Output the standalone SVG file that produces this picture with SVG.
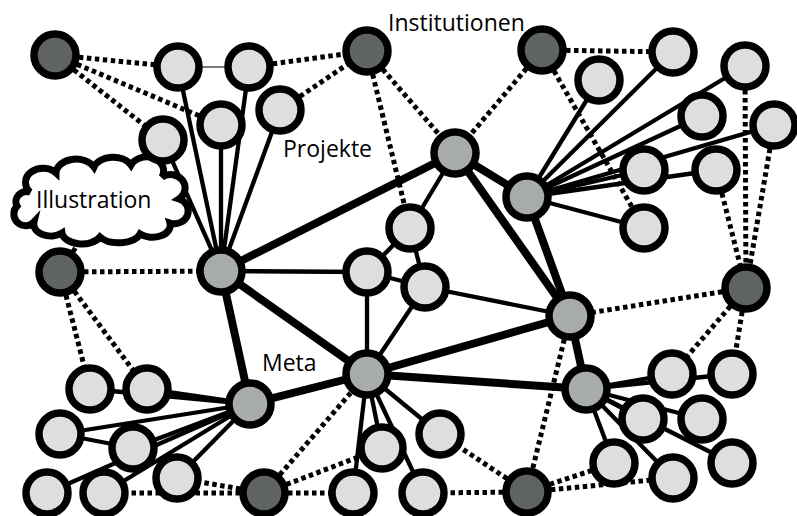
<svg xmlns="http://www.w3.org/2000/svg" width="797" height="516" viewBox="0 0 797 516">
<style>
.n circle{stroke:#000;stroke-width:7.5}
.dk{fill:#5f6362}.md{fill:#a7abaa}.lt{fill:#dddfde}
#edges line{stroke:#000;stroke-linecap:butt}
.tk{stroke-width:8}.me{stroke-width:4.3}.th{stroke-width:2;stroke:#7a7a7a !important}
.dt{stroke-width:5;stroke-dasharray:4.5 3.5}
text{font-family:"Open Sans","Liberation Sans",sans-serif;font-size:23px;fill:#000}
</style>
<rect width="797" height="516" fill="#fff"/>
<g id="edges">
<line class="tk" x1="221" y1="271" x2="455" y2="153"/>
<line class="tk" x1="221" y1="271" x2="367" y2="374"/>
<line class="tk" x1="221" y1="271" x2="250" y2="404"/>
<line class="tk" x1="250" y1="404" x2="367" y2="374"/>
<line class="tk" x1="367" y1="374" x2="570" y2="316"/>
<line class="tk" x1="367" y1="374" x2="586" y2="389"/>
<line class="tk" x1="455" y1="153" x2="527" y2="197"/>
<line class="tk" x1="455" y1="153" x2="570" y2="316"/>
<line class="tk" x1="527" y1="197" x2="570" y2="316"/>
<line class="tk" x1="570" y1="316" x2="586" y2="389"/>
<line class="me" x1="221" y1="271" x2="178" y2="67"/>
<line class="me" x1="221" y1="271" x2="249" y2="67"/>
<line class="me" x1="221" y1="271" x2="163" y2="140"/>
<line class="me" x1="221" y1="271" x2="221" y2="125"/>
<line class="me" x1="221" y1="271" x2="280" y2="110"/>
<line class="me" x1="221" y1="271" x2="367" y2="272"/>
<line class="me" x1="367" y1="272" x2="425" y2="287"/>
<line class="me" x1="367" y1="272" x2="367" y2="374"/>
<line class="me" x1="425" y1="287" x2="367" y2="374"/>
<line class="me" x1="410" y1="228" x2="367" y2="272"/>
<line class="me" x1="410" y1="228" x2="425" y2="287"/>
<line class="me" x1="410" y1="228" x2="455" y2="153"/>
<line class="me" x1="425" y1="287" x2="570" y2="316"/>
<line class="me" x1="367" y1="374" x2="382" y2="448"/>
<line class="me" x1="367" y1="374" x2="440" y2="434"/>
<line class="me" x1="367" y1="374" x2="353" y2="493"/>
<line class="me" x1="367" y1="374" x2="423" y2="493"/>
<line class="me" x1="527" y1="197" x2="599" y2="80"/>
<line class="me" x1="527" y1="197" x2="673" y2="52"/>
<line class="me" x1="527" y1="197" x2="745" y2="66"/>
<line class="me" x1="527" y1="197" x2="702" y2="116"/>
<line class="me" x1="527" y1="197" x2="774" y2="125"/>
<line class="me" x1="527" y1="197" x2="644" y2="170"/>
<line class="me" x1="527" y1="197" x2="716" y2="170"/>
<line class="me" x1="527" y1="197" x2="644" y2="228"/>
<line class="me" x1="586" y1="389" x2="672" y2="374"/>
<line class="me" x1="586" y1="389" x2="732" y2="374"/>
<line class="me" x1="586" y1="389" x2="643" y2="419"/>
<line class="me" x1="586" y1="389" x2="702" y2="419"/>
<line class="me" x1="586" y1="389" x2="614" y2="463"/>
<line class="me" x1="586" y1="389" x2="673" y2="478"/>
<line class="me" x1="586" y1="389" x2="732" y2="463"/>
<line class="me" x1="250" y1="404" x2="90" y2="389"/>
<line class="me" x1="250" y1="404" x2="147" y2="389"/>
<line class="me" x1="250" y1="404" x2="60" y2="434"/>
<line class="me" x1="250" y1="404" x2="133" y2="448"/>
<line class="me" x1="250" y1="404" x2="177" y2="478"/>
<line class="me" x1="250" y1="404" x2="47" y2="493"/>
<line class="me" x1="250" y1="404" x2="104" y2="493"/>
<line class="me" x1="60" y1="434" x2="133" y2="448"/>
<line class="th" x1="178" y1="67" x2="249" y2="67"/>
<line class="dt" x1="55" y1="55" x2="178" y2="67"/>
<line class="dt" x1="55" y1="55" x2="221" y2="125"/>
<line class="dt" x1="55" y1="55" x2="163" y2="140"/>
<line class="dt" x1="249" y1="67" x2="367" y2="51"/>
<line class="dt" x1="280" y1="110" x2="367" y2="51"/>
<line class="dt" x1="367" y1="51" x2="455" y2="153"/>
<line class="dt" x1="367" y1="51" x2="410" y2="228"/>
<line class="dt" x1="542" y1="50" x2="455" y2="153"/>
<line class="dt" x1="542" y1="50" x2="673" y2="52"/>
<line class="dt" x1="542" y1="50" x2="644" y2="228"/>
<line class="dt" x1="745" y1="66" x2="746" y2="288"/>
<line class="dt" x1="774" y1="125" x2="746" y2="288"/>
<line class="dt" x1="716" y1="170" x2="746" y2="288"/>
<line class="dt" x1="746" y1="288" x2="570" y2="316"/>
<line class="dt" x1="746" y1="288" x2="672" y2="374"/>
<line class="dt" x1="746" y1="288" x2="732" y2="374"/>
<line class="dt" x1="570" y1="316" x2="527" y2="492"/>
<line class="dt" x1="527" y1="492" x2="614" y2="463"/>
<line class="dt" x1="527" y1="492" x2="673" y2="478"/>
<line class="dt" x1="527" y1="492" x2="423" y2="493"/>
<line class="dt" x1="527" y1="492" x2="440" y2="434"/>
<line class="dt" x1="264" y1="493" x2="353" y2="493"/>
<line class="dt" x1="264" y1="493" x2="382" y2="448"/>
<line class="dt" x1="264" y1="493" x2="367" y2="374"/>
<line class="dt" x1="264" y1="493" x2="177" y2="478"/>
<line class="dt" x1="264" y1="493" x2="104" y2="493"/>
<line class="dt" x1="60" y1="272" x2="221" y2="271"/>
<line class="dt" x1="60" y1="272" x2="90" y2="389"/>
<line class="dt" x1="60" y1="272" x2="147" y2="389"/>
<line class="dt" x1="60" y1="272" x2="92" y2="222"/>
<line class="dt" x1="163" y1="140" x2="135" y2="180"/>
</g>
<g id="illustration">
<path d="M30,192 A16,13 0 0 1 56,173 A20,14 0 0 1 94,167 A20,14 0 0 1 131,165 A17,14 0 0 1 162,177 A13,12 0 0 1 179,199 A13,12 0 0 1 170,223 A18,12 0 0 1 140,234 A22,12 0 0 1 100,237 A20,12 0 0 1 62,233 A17,12 0 0 1 34,222 A11,11 0 0 1 17,206 A11,10 0 0 1 30,192 Z" fill="#fff" stroke="#000" stroke-width="7"/>
<text x="36" y="208" font-size="21">Illustration</text>
</g>
<g id="D1" class="n"><circle class="dk" cx="55" cy="55" r="21"/></g>
<g id="D2" class="n"><circle class="dk" cx="367" cy="51" r="21"/></g>
<g id="D3" class="n"><circle class="dk" cx="542" cy="50" r="21"/></g>
<g id="D4" class="n"><circle class="dk" cx="60" cy="272" r="21"/></g>
<g id="D5" class="n"><circle class="dk" cx="746" cy="288" r="21"/></g>
<g id="D6" class="n"><circle class="dk" cx="264" cy="493" r="21"/></g>
<g id="D7" class="n"><circle class="dk" cx="527" cy="492" r="21"/></g>
<g id="M1" class="n"><circle class="md" cx="455" cy="153" r="21"/></g>
<g id="M2" class="n"><circle class="md" cx="527" cy="197" r="21"/></g>
<g id="M3" class="n"><circle class="md" cx="221" cy="271" r="21"/></g>
<g id="M4" class="n"><circle class="md" cx="570" cy="316" r="21"/></g>
<g id="M5" class="n"><circle class="md" cx="367" cy="374" r="21"/></g>
<g id="M6" class="n"><circle class="md" cx="250" cy="404" r="21"/></g>
<g id="M7" class="n"><circle class="md" cx="586" cy="389" r="21"/></g>
<g id="L1" class="n"><circle class="lt" cx="178" cy="67" r="21"/></g>
<g id="L2" class="n"><circle class="lt" cx="249" cy="67" r="21"/></g>
<g id="L3" class="n"><circle class="lt" cx="163" cy="140" r="21"/></g>
<g id="L4" class="n"><circle class="lt" cx="221" cy="125" r="21"/></g>
<g id="L5" class="n"><circle class="lt" cx="280" cy="110" r="21"/></g>
<g id="L6" class="n"><circle class="lt" cx="410" cy="228" r="21"/></g>
<g id="L7" class="n"><circle class="lt" cx="367" cy="272" r="21"/></g>
<g id="L8" class="n"><circle class="lt" cx="425" cy="287" r="21"/></g>
<g id="L9" class="n"><circle class="lt" cx="382" cy="448" r="21"/></g>
<g id="L10" class="n"><circle class="lt" cx="440" cy="434" r="21"/></g>
<g id="L11" class="n"><circle class="lt" cx="353" cy="493" r="21"/></g>
<g id="L12" class="n"><circle class="lt" cx="423" cy="493" r="21"/></g>
<g id="L13" class="n"><circle class="lt" cx="599" cy="80" r="21"/></g>
<g id="L14" class="n"><circle class="lt" cx="673" cy="52" r="21"/></g>
<g id="L15" class="n"><circle class="lt" cx="745" cy="66" r="21"/></g>
<g id="L16" class="n"><circle class="lt" cx="702" cy="116" r="21"/></g>
<g id="L17" class="n"><circle class="lt" cx="774" cy="125" r="21"/></g>
<g id="L18" class="n"><circle class="lt" cx="644" cy="170" r="21"/></g>
<g id="L19" class="n"><circle class="lt" cx="716" cy="170" r="21"/></g>
<g id="L20" class="n"><circle class="lt" cx="644" cy="228" r="21"/></g>
<g id="L21" class="n"><circle class="lt" cx="90" cy="389" r="21"/></g>
<g id="L22" class="n"><circle class="lt" cx="147" cy="389" r="21"/></g>
<g id="L23" class="n"><circle class="lt" cx="60" cy="434" r="21"/></g>
<g id="L24" class="n"><circle class="lt" cx="133" cy="448" r="21"/></g>
<g id="L25" class="n"><circle class="lt" cx="177" cy="478" r="21"/></g>
<g id="L26" class="n"><circle class="lt" cx="47" cy="493" r="21"/></g>
<g id="L27" class="n"><circle class="lt" cx="104" cy="493" r="21"/></g>
<g id="L28" class="n"><circle class="lt" cx="672" cy="374" r="21"/></g>
<g id="L29" class="n"><circle class="lt" cx="732" cy="374" r="21"/></g>
<g id="L30" class="n"><circle class="lt" cx="643" cy="419" r="21"/></g>
<g id="L31" class="n"><circle class="lt" cx="702" cy="419" r="21"/></g>
<g id="L32" class="n"><circle class="lt" cx="614" cy="463" r="21"/></g>
<g id="L33" class="n"><circle class="lt" cx="673" cy="478" r="21"/></g>
<g id="L34" class="n"><circle class="lt" cx="732" cy="463" r="21"/></g>
<g id="labels">
<text x="388" y="31">Institutionen</text>
<text x="283" y="157">Projekte</text>
<text x="262" y="371">Meta</text>
</g>
</svg>
